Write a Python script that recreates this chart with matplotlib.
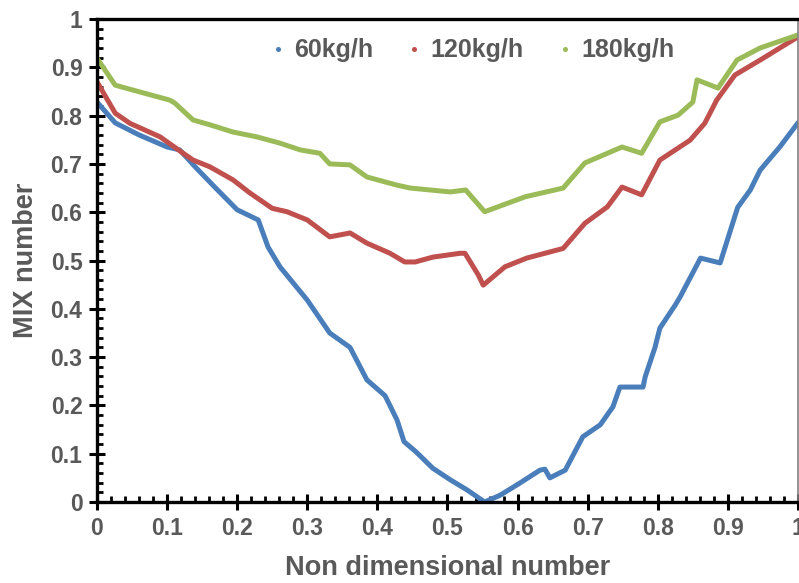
import matplotlib
matplotlib.use("Agg")
import matplotlib.pyplot as plt
from matplotlib.lines import Line2D
from matplotlib.ticker import MultipleLocator

x_60 = [0.0, 0.026, 0.06, 0.10, 0.118, 0.14, 0.168, 0.20, 0.23, 0.244, 0.261,
        0.30, 0.332, 0.361, 0.385, 0.411, 0.428, 0.438, 0.455, 0.479, 0.504,
        0.528, 0.553, 0.575, 0.603, 0.632, 0.639, 0.646, 0.668, 0.693, 0.718,
        0.736, 0.746, 0.779, 0.782, 0.796, 0.803, 0.825, 0.832, 0.861, 0.889,
        0.914, 0.932, 0.946, 0.974, 1.0]
y_60 = [0.828, 0.785, 0.76, 0.735, 0.729, 0.694, 0.652, 0.605, 0.584, 0.528, 0.487,
        0.418, 0.35, 0.32, 0.253, 0.22, 0.17, 0.125, 0.104, 0.07, 0.046,
        0.025, 0.0, 0.014, 0.039, 0.066, 0.068, 0.05, 0.066, 0.135, 0.16,
        0.197, 0.238, 0.238, 0.259, 0.32, 0.36, 0.408, 0.425, 0.505, 0.495,
        0.61, 0.646, 0.687, 0.735, 0.785]

x_120 = [0.0, 0.026, 0.047, 0.09, 0.123, 0.137, 0.161, 0.194, 0.218, 0.25, 0.271,
         0.30, 0.332, 0.361, 0.385, 0.418, 0.439, 0.454, 0.479, 0.518, 0.525,
         0.544, 0.551, 0.582, 0.613, 0.665, 0.696, 0.728, 0.749, 0.777, 0.803,
         0.846, 0.867, 0.884, 0.910, 0.946, 1.0]
y_120 = [0.87, 0.805, 0.784, 0.756, 0.722, 0.708, 0.694, 0.667, 0.64, 0.608, 0.601,
         0.584, 0.549, 0.557, 0.536, 0.515, 0.497, 0.497, 0.507, 0.515, 0.515,
         0.47, 0.449, 0.487, 0.505, 0.525, 0.577, 0.611, 0.652, 0.636, 0.708,
         0.749, 0.784, 0.832, 0.884, 0.915, 0.963]

x_180 = [0.0, 0.026, 0.061, 0.104, 0.111, 0.137, 0.161, 0.194, 0.228, 0.261, 0.29,
         0.318, 0.332, 0.361, 0.385, 0.428, 0.447, 0.504, 0.526, 0.553, 0.611,
         0.665, 0.696, 0.749, 0.777, 0.803, 0.829, 0.850, 0.856, 0.886, 0.913,
         0.946, 1.0]
y_180 = [0.919, 0.863, 0.849, 0.832, 0.826, 0.791, 0.781, 0.766, 0.756, 0.743, 0.729,
         0.722, 0.70, 0.698, 0.673, 0.656, 0.65, 0.642, 0.646, 0.601, 0.632,
         0.65, 0.702, 0.735, 0.722, 0.787, 0.801, 0.828, 0.874, 0.857, 0.915,
         0.94, 0.967]

labels = ["60kg/h", "120kg/h", "180kg/h"]
colors = ["#4a7ebb", "#c0504d", "#9bbb59"]
series = [(x_60, y_60), (x_120, y_120), (x_180, y_180)]

grey = "#595959"
plt.rcParams["font.family"] = ["Liberation Sans", "DejaVu Sans"]
plt.rcParams["font.weight"] = "bold"

fig = plt.figure(figsize=(7.99, 5.83), dpi=100)
ax = fig.add_axes([0.1214, 0.1389, 0.8773, 0.8285])

for (xs, ys), c in zip(series, colors):
    ax.plot(xs, ys, color=c, linewidth=3.6, solid_capstyle="round",
            solid_joinstyle="round")

ax.set_xlim(0, 1)
ax.set_ylim(0, 1)
ax.xaxis.set_major_locator(MultipleLocator(0.1))
ax.yaxis.set_major_locator(MultipleLocator(0.1))
ax.xaxis.set_minor_locator(MultipleLocator(0.02))
ax.yaxis.set_minor_locator(MultipleLocator(0.02))
ax.xaxis.set_major_formatter(plt.FuncFormatter(lambda v, p: f"{v:g}"))
ax.yaxis.set_major_formatter(plt.FuncFormatter(lambda v, p: f"{v:g}"))

ax.tick_params(which="major", direction="inout", length=11, width=2.2,
               labelsize=16.5, labelcolor=grey, pad=5)
ax.tick_params(which="minor", direction="in", length=4, width=2)

for s in ["left", "bottom", "top"]:
    ax.spines[s].set_linewidth(2.4)
    ax.spines[s].set_color("black")
ax.spines["right"].set_linewidth(1.2)
ax.spines["right"].set_color("#808080")

ax.set_xlabel("Non dimensional number", fontsize=19.5, color=grey,
              fontweight="bold", labelpad=11)
ax.set_ylabel("MIX number", fontsize=19.5, color=grey, fontweight="bold",
              labelpad=8)

handles = [Line2D([], [], linestyle="none", marker="o", markersize=2.6,
                  color=c) for c in colors]
ax.legend(handles, labels, loc="center", bbox_to_anchor=(0.536, 0.935),
          ncol=3, frameon=False, fontsize=18, labelcolor=grey,
          handlelength=0.5, handletextpad=0.4, columnspacing=1.4)

fig.savefig("out.png", dpi=100)
